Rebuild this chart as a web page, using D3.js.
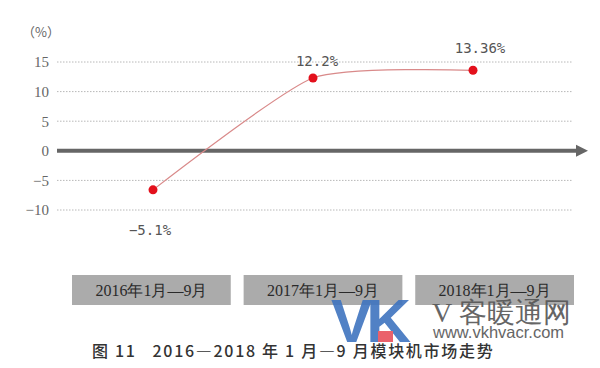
<!DOCTYPE html>
<html lang="zh">
<head>
<meta charset="UTF-8">
<title>模块机市场走势</title>
<script src="https://d3js.org/d3.v7.min.js"></script>
<style>
  body { margin: 0; background: #fff; }
  svg { display: block; }
  .serif { font-family: "Liberation Serif", "Times New Roman", "DejaVu Serif", serif; }
</style>
</head>
<body>
<svg id="chart" width="600" height="368"></svg>
<script>
// data
const periods = ["2016年1月—9月", "2017年1月—9月", "2018年1月—9月"];
const growth = [-6.6, 12.3, 13.6];          // plotted positions
const growthLabels = ["−5.1%", "12.2%", "13.36%"];
const yTicks = [15, 10, 5, 0, -5, -10];

const svg = d3.select("#chart");

const y = d3.scaleLinear().domain([-10, 15]).range([210, 62]);
const xDot = d3.scalePoint().domain(periods).range([153, 473]);
const xBox = d3.scaleBand().domain(periods).range([72, 574]).paddingInner(0.075);

// dotted grid
svg.append("g").selectAll("line")
  .data(yTicks.filter(d => d !== 0))
  .join("line")
  .attr("x1", 57).attr("x2", 572)
  .attr("y1", d => y(d)).attr("y2", d => y(d))
  .attr("stroke", "#b8b8b8")
  .attr("stroke-width", 1)
  .attr("stroke-dasharray", "1.5,1.5");

// y tick labels
const yAxis = d3.axisLeft(y).tickValues(yTicks).tickSize(0).tickPadding(0);
const gy = svg.append("g").attr("transform", "translate(49,0)").call(yAxis);
gy.select(".domain").remove();
gy.attr("font-family", null).attr("font-size", null);
gy.selectAll("text")
  .attr("class", "serif")
  .style("font-size", "15px")
  .attr("fill", "#666");

svg.append("text")
  .attr("x", 41).attr("y", 37)
  .attr("text-anchor", "middle")
  .style("font-family", "'Noto Sans CJK SC', sans-serif")
  .style("font-size", "13px")
  .attr("fill", "#666")
  .text("（%）");

// zero axis with arrow
svg.append("line")
  .attr("x1", 57).attr("x2", 578)
  .attr("y1", y(0)).attr("y2", y(0))
  .attr("stroke", "#666")
  .attr("stroke-width", 4);
svg.append("path")
  .attr("d", `M576,${y(0) - 6} L588,${y(0)} L576,${y(0) + 6} Z`)
  .attr("fill", "#666");

// trend curve
const line = d3.line()
  .x((d, i) => xDot(periods[i]))
  .y(d => y(d))
  .curve(d3.curveCardinal.tension(0.4));
svg.append("path")
  .datum(growth)
  .attr("d", line)
  .attr("fill", "none")
  .attr("stroke", "#d98a8a")
  .attr("stroke-width", 1.2);

svg.append("g").selectAll("circle")
  .data(growth)
  .join("circle")
  .attr("cx", (d, i) => xDot(periods[i]))
  .attr("cy", d => y(d))
  .attr("r", 4.5)
  .attr("fill", "#e3101c");

// value labels
const labelPos = [[150, 235], [317, 66], [480, 53]];
svg.append("g").selectAll("text")
  .data(growthLabels)
  .join("text")
  .attr("x", (d, i) => labelPos[i][0])
  .attr("y", (d, i) => labelPos[i][1])
  .attr("text-anchor", "middle")
  .style("font-family", "'DejaVu Sans Mono', monospace")
  .style("font-size", "14px")
  .attr("fill", "#555")
  .text(d => d);

// category boxes
const boxes = svg.append("g");
boxes.selectAll("rect")
  .data(periods)
  .join("rect")
  .attr("x", d => xBox(d))
  .attr("y", 275)
  .attr("width", xBox.bandwidth())
  .attr("height", 30)
  .attr("fill", "#ababab");
boxes.selectAll("text")
  .data(periods)
  .join("text")
  .attr("class", "serif")
  .attr("x", d => xBox(d) + xBox.bandwidth() / 2)
  .attr("y", 296)
  .attr("text-anchor", "middle")
  .style("font-size", "16px")
  .attr("fill", "#2a2a2a")
  .text(d => d);

// watermark
const wm = svg.append("g").attr("opacity", 0.9);
wm.append("text")
  .attr("x", 331).attr("y", 342)
  .style("font-family", "'Liberation Sans', sans-serif")
  .style("font-weight", "bold")
  .style("font-size", "62px")
  .attr("letter-spacing", -6)
  .attr("fill", "#3f74bf")
  .text("VK");
wm.append("rect")
  .attr("x", 378).attr("y", 331).attr("width", 15).attr("height", 11)
  .attr("fill", "#e8505b");
wm.append("text")
  .attr("class", "serif")
  .attr("x", 432).attr("y", 322)
  .style("font-size", "28px")
  .attr("fill", "#555")
  .text("V 客暖通网");
wm.append("text")
  .attr("x", 433).attr("y", 338)
  .style("font-family", "'Liberation Sans', sans-serif")
  .style("font-size", "16.5px")
  .attr("fill", "#555")
  .text("www.vkhvacr.com");

// caption
svg.append("text")
  .attr("x", 92).attr("y", 357)
  .style("font-family", "'Noto Sans CJK SC', sans-serif")
  .style("font-size", "16px")
  .style("font-weight", "500")
  .style("white-space", "pre")
  .attr("letter-spacing", 1.7)
  .attr("fill", "#333")
  .text("图 11   2016—2018 年 1 月—9 月模块机市场走势");
</script>
</body>
</html>
